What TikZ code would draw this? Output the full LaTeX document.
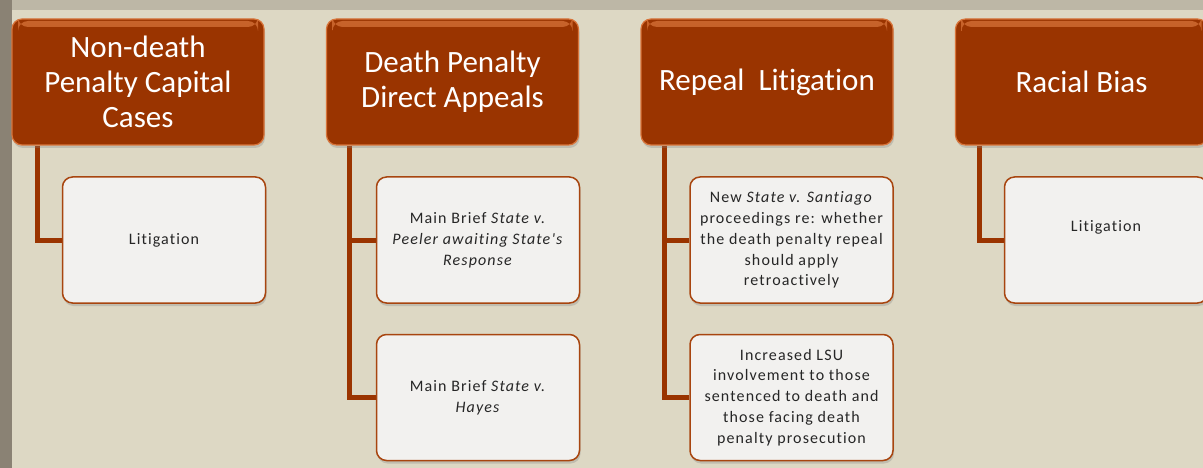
\documentclass[tikz,border=0pt]{standalone}
\usepackage{fontspec}
\setmainfont{Carlito}[Ligatures=NoCommon]
\newfontfamily\childfont{Carlito}[LetterSpace=7,Ligatures=NoCommon]
\usetikzlibrary{shadows,backgrounds}
\definecolor{bg}{HTML}{DDD8C4}
\definecolor{brick}{HTML}{9A3400}
\definecolor{hilite}{HTML}{D8743A}
\definecolor{cardfill}{HTML}{F2F1EF}
\definecolor{cardline}{HTML}{A8450F}
\definecolor{txt}{HTML}{262626}
\definecolor{topstrip}{HTML}{BDB7A6}
\definecolor{leftstrip}{HTML}{8A8274}
\begin{document}
\begin{tikzpicture}[x=1pt,y=-1pt,
  header/.style={rectangle, rounded corners=10pt, fill=brick, draw=hilite, line width=1.2pt,
    minimum width=252pt, minimum height=126pt, text=white, align=center, inner sep=0pt,
    font=\fontsize{31}{35}\selectfont,
    path picture={\shade[top color=hilite!75!brick, bottom color=brick]
      ([xshift=6pt,yshift=-2pt]path picture bounding box.north west) rectangle
      ([xshift=-6pt,yshift=-8pt]path picture bounding box.north east);},
    drop shadow={opacity=0.3, shadow xshift=1pt, shadow yshift=-3pt}},
  card/.style={rectangle, rounded corners=10pt, fill=cardfill, draw=cardline, line width=1.5pt,
    minimum width=203pt, minimum height=126pt, text=txt, align=center, inner sep=0pt,
    font=\childfont\fontsize{16}{20.8}\selectfont,
    drop shadow={opacity=0.3, shadow xshift=1pt, shadow yshift=-3pt}},
  cardtext/.style={text=txt, align=center, inner sep=0pt, font=\childfont\fontsize{16}{20.8}\selectfont},
  link/.style={draw=brick, line width=5pt}
]
\useasboundingbox (0,0) rectangle (1203,468);
\clip (0,0) rectangle (1203,468);

% headers
\node[header] (h1) at (138,82) {Non-death\\Penalty Capital\\Cases};
\node[header] (h2) at (452.5,82) {Death Penalty\\Direct Appeals};
\node[header] (h3) at (767,82) {Repeal\ \ Litigation};
\node[header] (h4) at (1081.5,82) {Racial Bias};

% cards
\node[card] (c1) at (164,240) {Litigation};
\node[card] (c2a) at (478,240) {Main Brief \textit{State v.}\\\textit{Peeler awaiting State's}\\\textit{Response}};
\node[card] (c2b) at (478,397.5) {Main Brief \textit{State v.}\\\textit{Hayes}};
\node[card] (c3a) at (791.5,240) {New \textit{State v. Santiago}\\proceedings re: whether\\the death penalty repeal\\should apply\\retroactively};
\node[card] (c3b) at (791.5,397.5) {Increased LSU\\involvement to those\\sentenced to death and\\those facing death\\penalty prosecution};
\node[card] (c4) at (1106,240) {};
\node[cardtext] (c4t) at ([yshift=13pt]c4.center) {Litigation};

\begin{scope}[on background layer]
  \fill[bg] (0,0) rectangle (1203,468);
  \fill[topstrip] (0,0) rectangle (1203,10);
  \fill[leftstrip] (0,0) rectangle (12,468);
  \draw[link] ([xshift=26pt]h1.south west) |- (c1.west);
  \draw[link] ([xshift=24pt]h2.south west) |- (c2a.west);
  \draw[link] ([xshift=24pt]h2.south west) |- (c2b.west);
  \draw[link] ([xshift=24pt]h3.south west) |- (c3a.west);
  \draw[link] ([xshift=24pt]h3.south west) |- (c3b.west);
  \draw[link] ([xshift=25pt]h4.south west) |- (c4.west);
\end{scope}
\end{tikzpicture}
\end{document}
